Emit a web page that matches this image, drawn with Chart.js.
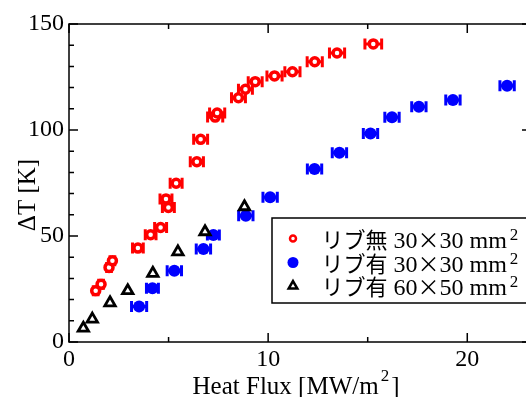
<!DOCTYPE html>
<html><head><meta charset="utf-8">
<script src="https://cdn.jsdelivr.net/npm/chart.js@4"></script>
<style>html,body{margin:0;padding:0;background:#fff;overflow:hidden;width:526px;height:397px}canvas{display:block}</style>
</head><body><canvas id="c" width="545" height="397"></canvas>
<script>
// ---- data ----
const seriesRib = ['リブ無', 'リブ有', 'リブ有'];
const seriesSizeA = ['30', '30', '60'];
const seriesSizeB = ['30', '30', '50'];

const noRibX   = [1.34, 1.61, 2.01, 2.18, 3.46, 4.10, 4.60, 4.87, 4.99, 5.38, 6.42, 6.61, 7.34, 7.44, 8.51, 8.86, 9.35, 10.32, 11.22, 12.34, 13.46, 15.28];
const noRibY   = [24.2, 27.2, 35.2, 38.3, 44.3, 50.6, 54.0, 67.5, 63.5, 74.9, 85.0, 95.6, 106.1, 108.0, 115.2, 119.2, 122.8, 125.5, 127.5, 132.2, 136.3, 140.6];
const noRibErr = [0.12, 0.12, 0.12, 0.12, 0.27, 0.27, 0.3, 0.3, 0.3, 0.3, 0.33, 0.35, 0.38, 0.38, 0.35, 0.35, 0.35, 0.38, 0.38, 0.38, 0.38, 0.42];

const rib30X   = [3.52, 4.19, 5.29, 6.75, 7.25, 8.88, 10.10, 12.33, 13.58, 15.14, 16.22, 17.57, 19.28, 22.0];
const rib30Y   = [16.7, 25.3, 33.6, 43.9, 50.5, 59.6, 68.3, 81.6, 89.3, 98.4, 106.0, 111.0, 114.2, 120.9];
const rib30Err = [0.38, 0.3, 0.36, 0.36, 0.3, 0.36, 0.36, 0.36, 0.36, 0.36, 0.36, 0.36, 0.36, 0.36];

const rib60X   = [0.72, 1.17, 2.06, 2.95, 4.21, 5.47, 6.83, 8.81];
const rib60Y   = [6.5, 10.8, 18.5, 24.2, 32.4, 42.5, 52.0, 63.8];

const xTickLabels = [0, 10, 20];
const xMinorTicks = [5, 15];
const yTickLabels = [0, 50, 100, 150];
const yMinorTicks = [10, 20, 30, 40, 60, 70, 80, 90, 110, 120, 130, 140];

const pts = (xs, ys) => xs.map((x, i) => ({x: x, y: ys[i]}));

const SERIF = '"Liberation Serif", "Times New Roman", serif';
const CJK = '"Noto Sans CJK JP", sans-serif';

function drawMarker(ctx, style, x, y, r, color, lw) {
  ctx.save();
  ctx.lineWidth = lw;
  ctx.strokeStyle = color;
  ctx.beginPath();
  if (style === 'triangle') {
    const w = r * Math.sqrt(3) / 2;
    ctx.moveTo(x, y - r);
    ctx.lineTo(x + w, y + r / 2);
    ctx.lineTo(x - w, y + r / 2);
    ctx.closePath();
    ctx.fillStyle = '#fff';
    ctx.fill(); ctx.stroke();
  } else if (style === 'open') {
    ctx.arc(x, y, r, 0, Math.PI * 2);
    ctx.fillStyle = '#fff';
    ctx.fill(); ctx.stroke();
  } else {
    ctx.arc(x, y, r, 0, Math.PI * 2);
    ctx.fillStyle = color;
    ctx.fill();
  }
  ctx.restore();
}

function drawParts(ctx, x, y, parts) {
  let cx = x;
  parts.forEach(p => {
    ctx.font = p.font;
    ctx.fillText(p.t, cx, y - (p.dy || 0));
    cx += ctx.measureText(p.t).width + (p.gap || 0);
  });
  return cx;
}
function partsWidth(ctx, parts) {
  let w = 0;
  parts.forEach(p => { ctx.font = p.font; w += ctx.measureText(p.t).width + (p.gap || 0); });
  return w;
}

const framePlugin = {
  id: 'frame',
  beforeDatasetsDraw(chart) {
    const ctx = chart.ctx, xs = chart.scales.x, ys = chart.scales.y;
    chart.data.datasets.forEach(ds => {
      if (!ds.xErr) return;
      ctx.save();
      ctx.strokeStyle = ds.borderColor;
      ctx.lineWidth = 3;
      ds.data.forEach((p, i) => {
        const e = ds.xErr[i];
        if (!e) return;
        const x1 = xs.getPixelForValue(p.x - e), x2 = xs.getPixelForValue(p.x + e);
        const y = ys.getPixelForValue(p.y);
        ctx.beginPath();
        ctx.moveTo(x1, y); ctx.lineTo(x2, y);
        ctx.moveTo(x1, y - 5.5); ctx.lineTo(x1, y + 5.5);
        ctx.moveTo(x2, y - 5.5); ctx.lineTo(x2, y + 5.5);
        ctx.stroke();
      });
      ctx.restore();
    });
  },
  afterDraw(chart) {
    const ctx = chart.ctx, xs = chart.scales.x, ys = chart.scales.y;
    const a = chart.chartArea;
    ctx.save();
    ctx.strokeStyle = '#000';
    ctx.lineWidth = 1.5;
    ctx.strokeRect(a.left, a.top, a.right - a.left, a.bottom - a.top);
    ctx.beginPath();
    const MAJ = 9, MIN = 5;
    xTickLabels.concat(xMinorTicks).forEach(v => {
      const L = xTickLabels.includes(v) ? MAJ : MIN;
      const px = xs.getPixelForValue(v);
      ctx.moveTo(px, a.bottom); ctx.lineTo(px, a.bottom - L);
      ctx.moveTo(px, a.top); ctx.lineTo(px, a.top + L);
    });
    yTickLabels.concat(yMinorTicks).forEach(v => {
      const L = yTickLabels.includes(v) ? MAJ : MIN;
      const py = ys.getPixelForValue(v);
      ctx.moveTo(a.left, py); ctx.lineTo(a.left + L, py);
      ctx.moveTo(a.right, py); ctx.lineTo(a.right - L, py);
    });
    ctx.stroke();

    // axis titles
    ctx.fillStyle = '#000';
    ctx.textBaseline = 'alphabetic';
    ctx.textAlign = 'left';
    const xt = [
      {t: 'Heat Flux [MW/m', font: '25px ' + SERIF, gap: 2},
      {t: '2', font: '17px ' + SERIF, dy: 13, gap: 2},
      {t: ']', font: '25px ' + SERIF}
    ];
    const w = partsWidth(ctx, xt);
    drawParts(ctx, 296 - w / 2, 394, xt);

    ctx.save();
    ctx.translate(35, 195);
    ctx.rotate(-Math.PI / 2);
    ctx.textAlign = 'center';
    ctx.font = '25px ' + SERIF;
    ctx.fillText('ΔT [K]', 0, 0);
    ctx.restore();

    // legend
    ctx.lineWidth = 1.5;
    ctx.strokeStyle = '#000';
    ctx.fillStyle = '#fff';
    ctx.fillRect(272, 218, 300, 85);
    ctx.strokeRect(272, 218, 300, 85);
    const rows = [238.5, 262.5, 286];
    const base = [248, 271.5, 294.5];
    chart.data.datasets.forEach((ds, i) => {
      drawMarker(ctx, ds.legendStyle, 293, rows[i], ds.legendR, ds.borderColor, 2.5);
      ctx.fillStyle = '#000';
      drawParts(ctx, 321.5, base[i], [
        {t: seriesRib[i], font: '22px ' + CJK, gap: 6},
        {t: seriesSizeA[i], font: '24px ' + SERIF},
        {t: '×', font: '22px ' + CJK},
        {t: seriesSizeB[i] + ' mm', font: '24px ' + SERIF, gap: 3},
        {t: '2', font: '17px ' + SERIF, dy: 8}
      ]);
    });
    ctx.restore();
  }
};

new Chart(document.getElementById('c'), {
  type: 'scatter',
  data: {
    datasets: [
      {label: seriesRib[0] + ' ' + seriesSizeA[0] + '×' + seriesSizeB[0] + ' mm2', data: pts(noRibX, noRibY), xErr: noRibErr,
       borderColor: '#ff0000', backgroundColor: '#ffffff', pointStyle: 'circle', pointRadius: 4, borderWidth: 3.5,
       order: 1, legendStyle: 'open', legendR: 3},
      {label: seriesRib[1] + ' ' + seriesSizeA[1] + '×' + seriesSizeB[1] + ' mm2', data: pts(rib30X, rib30Y), xErr: rib30Err,
       borderColor: '#0000ff', backgroundColor: '#0000ff', pointStyle: 'circle', pointRadius: 6, borderWidth: 0,
       order: 2, legendStyle: 'filled', legendR: 5.5},
      {label: seriesRib[2] + ' ' + seriesSizeA[2] + '×' + seriesSizeB[2] + ' mm2', data: pts(rib60X, rib60Y),
       borderColor: '#000000', backgroundColor: '#ffffff', pointStyle: 'triangle', pointRadius: 6, borderWidth: 2.8,
       order: 0, legendStyle: 'triangle', legendR: 5}
    ]
  },
  options: {
    responsive: false,
    animation: false,
    events: [],
    layout: {padding: {top: 24, right: 14, left: 0, bottom: 0}, autoPadding: false},
    plugins: {legend: {display: false}, tooltip: {enabled: false}},
    scales: {
      x: {
        type: 'linear', min: 0, max: 23.2,
        grid: {display: false, drawTicks: false},
        border: {display: false},
        afterFit: s => { s.height = 55; },
        ticks: {
          stepSize: 5, includeBounds: false, autoSkip: false, maxRotation: 0,
          padding: 3, color: '#000', font: {family: SERIF, size: 24},
          callback: v => xTickLabels.includes(v) ? String(v) : ''
        }
      },
      y: {
        type: 'linear', min: 0, max: 150,
        grid: {display: false, drawTicks: false},
        border: {display: false},
        afterFit: s => { s.width = 69; },
        ticks: {
          stepSize: 50, autoSkip: false, padding: 5, color: '#000',
          font: {family: SERIF, size: 24},
          callback: v => yTickLabels.includes(v) ? String(v) : ''
        }
      }
    }
  },
  plugins: [framePlugin]
});
</script>
</body></html>
